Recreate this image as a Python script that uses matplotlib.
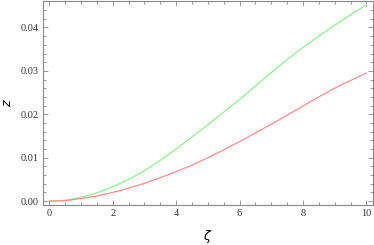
import matplotlib
matplotlib.use("Agg")
import matplotlib.pyplot as plt
import numpy as np
from matplotlib.ticker import MultipleLocator

# values
zeta = [0, 0.5, 1, 1.5, 2, 2.5, 3, 3.5, 4, 4.5, 5, 5.5, 6, 6.5, 7, 7.5, 8, 8.5, 9, 9.5, 10]
z_green = [0, 0.0002, 0.0009, 0.0019, 0.0033, 0.0050, 0.0070, 0.0094, 0.0120, 0.0148, 0.0176,
           0.0205, 0.0234, 0.0265, 0.0296, 0.0326, 0.0354, 0.0380, 0.0405, 0.0429, 0.0452]
z_red = [0, 0.0001, 0.0006, 0.0012, 0.0020, 0.0030, 0.0041, 0.0054, 0.0068, 0.0083, 0.0100,
         0.0118, 0.0137, 0.0157, 0.0177, 0.0198, 0.0219, 0.0240, 0.0260, 0.0278, 0.0295]

plt.rcParams['font.family'] = ['Liberation Serif', 'DejaVu Serif']

fig = plt.figure(figsize=(3.74, 2.45), dpi=100)
ax = fig.add_axes([0.115, 0.163, 0.8815, 0.833])

ax.plot(zeta, z_green, color='#8cf08c', linewidth=0.9)
ax.plot(zeta, z_red, color='#ff8c8c', linewidth=0.9)

ax.set_xlim(-0.2, 10.2)
ax.set_ylim(-0.0009, 0.0461)

ax.xaxis.set_major_locator(MultipleLocator(2))
ax.xaxis.set_minor_locator(MultipleLocator(0.5))
ax.yaxis.set_major_locator(MultipleLocator(0.01))
ax.yaxis.set_minor_locator(MultipleLocator(0.002))
ax.yaxis.set_major_formatter(matplotlib.ticker.FormatStrFormatter('%.2f'))

for s in ax.spines.values():
    s.set_color('#888888')
    s.set_linewidth(0.8)
ax.tick_params(which='both', direction='in', top=True, right=True, color='#888888',
               labelsize=7.5, labelcolor='#333333', width=0.6)
ax.tick_params(which='major', length=3.5, pad=3)
ax.tick_params(which='minor', length=2)

ax.set_xlabel(r'$\zeta$', fontsize=9, labelpad=7)
ax.set_ylabel(r'$z$', fontsize=9, labelpad=5)

fig.savefig('out.png', dpi=100)
